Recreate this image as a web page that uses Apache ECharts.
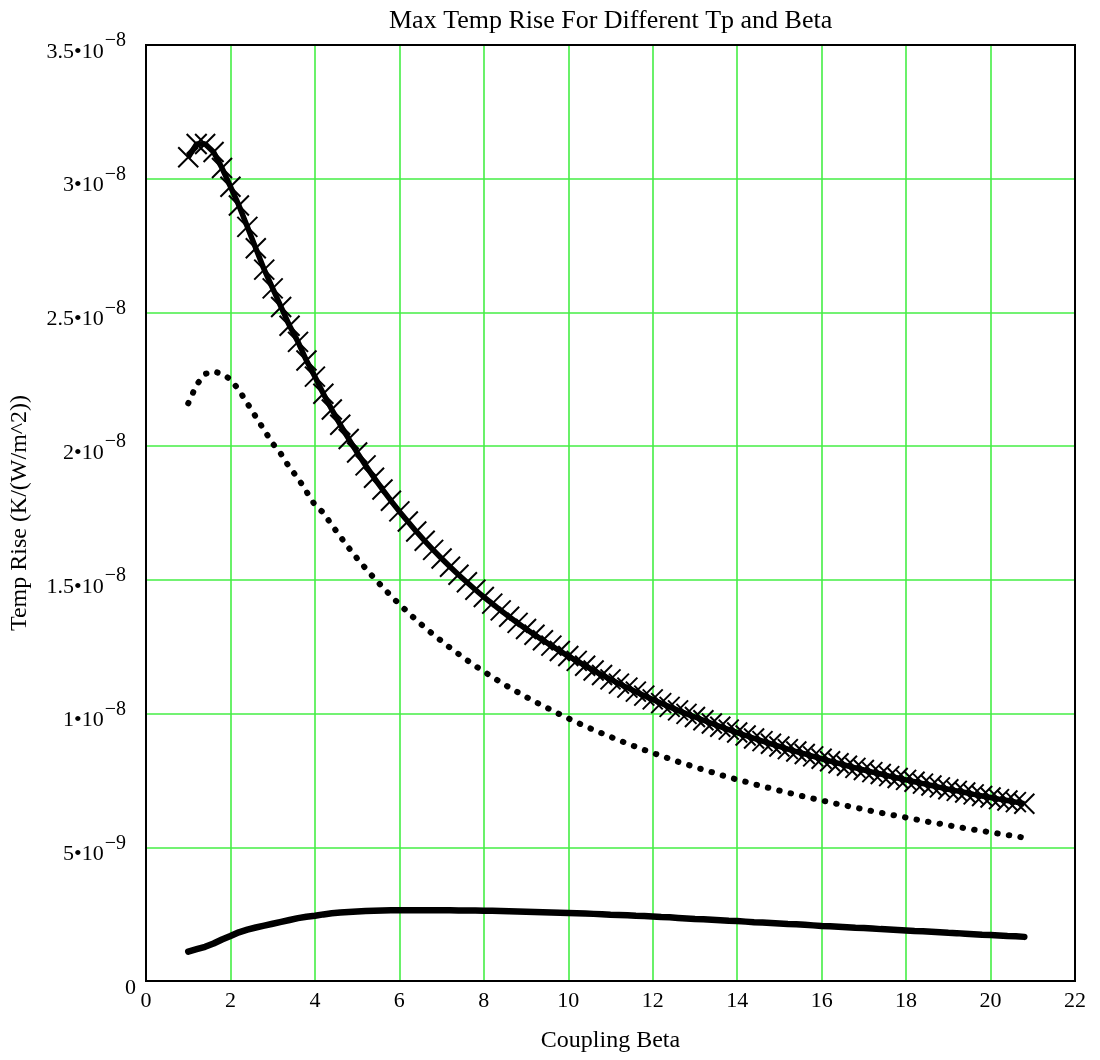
<!DOCTYPE html>
<html>
<head>
<meta charset="utf-8">
<script src="https://cdn.jsdelivr.net/npm/echarts@6/dist/echarts.min.js"></script>
<style>
html,body{margin:0;padding:0;background:#fff;}
#chart{width:1100px;height:1060px;}
</style>
</head>
<body>
<div id="chart"></div>
<script>
// Coupling Beta values (x)
const beta = [1.0,1.2,1.4,1.6,1.8,2.0,2.2,2.4,2.6,2.8,3.0,3.2,3.4,3.6,3.8,4.0,4.2,4.4,4.6,4.8,
  5.0,5.2,5.4,5.6,5.8,6.0,6.2,6.4,6.6,6.8,7.0,7.2,7.4,7.6,7.8,8.0,8.2,8.4,8.6,8.8,
  9.0,9.2,9.4,9.6,9.8,10.0,10.2,10.4,10.6,10.8,11.0,11.2,11.4,11.6,11.8,12.0,12.2,12.4,12.6,12.8,
  13.0,13.2,13.4,13.6,13.8,14.0,14.2,14.4,14.6,14.8,15.0,15.2,15.4,15.6,15.8,16.0,16.2,16.4,16.6,16.8,
  17.0,17.2,17.4,17.6,17.8,18.0,18.2,18.4,18.6,18.8,19.0,19.2,19.4,19.6,19.8,20.0,20.2,20.4,20.6,20.8];

// Temperature rise, in units of 1e-9 K/(W/m^2)
const riseCross = [30.8,31.3,31.3,31.0,30.4,29.7,29.0,28.2,27.4,26.6,25.9,25.2,24.5,23.9,23.2,22.6,21.96,21.37,20.80,20.27,
  19.76,19.28,18.82,18.38,17.96,17.56,17.18,16.81,16.46,16.12,15.80,15.49,15.19,14.91,14.63,14.36,14.11,13.86,13.62,13.39,
  13.16,12.95,12.74,12.54,12.34,12.15,11.97,11.79,11.61,11.44,11.28,11.12,10.97,10.82,10.67,10.53,10.39,10.25,10.12,9.99,
  9.87,9.75,9.63,9.51,9.40,9.29,9.18,9.07,8.97,8.87,8.77,8.67,8.58,8.49,8.40,8.31,8.22,8.14,8.05,7.97,
  7.89,7.81,7.74,7.66,7.59,7.52,7.45,7.38,7.31,7.24,7.17,7.11,7.05,6.98,6.92,6.86,6.80,6.75,6.69,6.63];

const riseDot = [21.6,22.3,22.7,22.8,22.7,22.5,22.1,21.6,21.1,20.6,20.1,19.7,19.2,18.8,18.3,17.8,17.51,17.05,16.62,16.20,
  15.80,15.43,15.07,14.73,14.40,14.09,13.79,13.50,13.22,12.96,12.71,12.46,12.23,12.00,11.78,11.57,11.37,11.17,10.98,10.80,
  10.62,10.45,10.29,10.13,9.97,9.82,9.67,9.53,9.39,9.26,9.13,9.00,8.88,8.76,8.64,8.53,8.42,8.31,8.20,8.10,
  8.00,7.90,7.81,7.71,7.62,7.53,7.45,7.36,7.28,7.20,7.12,7.04,6.97,6.89,6.82,6.75,6.68,6.61,6.55,6.48,
  6.42,6.35,6.29,6.23,6.17,6.11,6.05,5.99,5.93,5.88,5.82,5.77,5.71,5.66,5.61,5.56,5.51,5.46,5.41,5.36];

const riseLow = [1.10,1.19,1.28,1.40,1.55,1.68,1.82,1.92,2.00,2.07,2.14,2.21,2.28,2.35,2.40,2.44,2.49,2.53,2.56,2.58,
  2.60,2.62,2.63,2.64,2.645,2.65,2.65,2.65,2.65,2.65,2.65,2.65,2.64,2.64,2.64,2.63,2.63,2.62,2.61,2.60,
  2.59,2.58,2.57,2.56,2.55,2.54,2.53,2.52,2.51,2.50,2.48,2.47,2.46,2.44,2.43,2.41,2.39,2.38,2.36,2.34,
  2.32,2.31,2.29,2.27,2.25,2.24,2.22,2.20,2.19,2.17,2.15,2.13,2.12,2.10,2.08,2.06,2.05,2.03,2.01,1.99,
  1.98,1.96,1.94,1.93,1.91,1.89,1.87,1.86,1.84,1.82,1.80,1.79,1.77,1.75,1.73,1.72,1.70,1.68,1.67,1.65];

// Y tick labels: value (1e-9 units) -> mantissa and exponent
const yTickValues = [0, 5, 10, 15, 20, 25, 30, 35];
const yTickMant = ['0', '5', '1', '1.5', '2', '2.5', '3', '3.5'];
const yTickExp = ['', '\u22129', '\u22128', '\u22128', '\u22128', '\u22128', '\u22128', '\u22128'];

const serif = '"Liberation Serif","DejaVu Serif",serif';
const gridGreen = '#44ee44';

const chart = echarts.init(document.getElementById('chart'), null, {renderer: 'canvas'});
const pair = arr => beta.map((x, i) => [x, arr[i]]);

chart.setOption({
  animation: false,
  backgroundColor: '#fff',
  title: {
    text: 'Max Temp Rise For Different Tp and Beta',
    left: 384, top: 3,
    textStyle: {fontFamily: serif, fontSize: 26, fontWeight: 'normal', color: '#000'}
  },
  grid: {
    left: 146, right: 25, top: 45, bottom: 79,
    containLabel: false, outerBoundsMode: 'none',
    show: true, borderColor: '#000', borderWidth: 2, backgroundColor: 'transparent', z: 5
  },
  xAxis: {
    type: 'value', min: 0, max: 22, interval: 2,
    name: 'Coupling Beta', nameLocation: 'middle', nameGap: 48,
    nameTextStyle: {fontFamily: serif, fontSize: 24, color: '#000'},
    axisLine: {show: true, lineStyle: {color: '#000', width: 2}},
    axisTick: {show: false},
    axisLabel: {fontFamily: serif, fontSize: 22, color: '#000', margin: 9},
    splitLine: {show: true, showMinLine: false, showMaxLine: false,
      lineStyle: {color: gridGreen, width: 1.6, type: 'solid', opacity: 1}}
  },
  yAxis: {
    type: 'value', min: 0, max: 35, interval: 5,
    name: 'Temp Rise (K/(W/m^2))', nameLocation: 'middle', nameGap: 114,
    nameTextStyle: {fontFamily: serif, fontSize: 24, color: '#000'},
    axisLine: {show: true, lineStyle: {color: '#000', width: 2}},
    axisTick: {show: false},
    axisLabel: {
      margin: 10,
      padding: [4, 0, 0, 0],
      formatter: function (v) {
        const i = yTickValues.indexOf(Math.round(v));
        if (i < 0) return '';
        if (!yTickExp[i]) return '{z|' + yTickMant[i] + '}';
        return '{b|' + yTickMant[i] + '\u202210}{e|' + yTickExp[i] + '}';
      },
      rich: {
        z: {fontFamily: serif, fontSize: 22, color: '#000', lineHeight: 32, verticalAlign: 'bottom'},
        b: {fontFamily: serif, fontSize: 22, color: '#000', lineHeight: 32, verticalAlign: 'bottom'},
        e: {fontFamily: serif, fontSize: 20, color: '#000', lineHeight: 32, verticalAlign: 'top', padding: [0, 10, 0, 1]}
      }
    },
    splitLine: {show: true, showMinLine: false, showMaxLine: false,
      lineStyle: {color: gridGreen, width: 1.6, type: 'solid', opacity: 1}}
  },
  series: [
    {
      type: 'line', data: pair(riseCross),
      showSymbol: true, showAllSymbol: true,
      symbol: 'path://M0,0L20,20M20,0L0,20', symbolSize: 20, symbolKeepAspect: true,
      itemStyle: {color: 'rgba(0,0,0,0)', borderColor: '#000', borderWidth: 2},
      lineStyle: {color: '#000', width: 5.5},
      z: 3
    },
    {
      type: 'line', data: pair(riseDot),
      showSymbol: false,
      lineStyle: {color: '#000', width: 6, type: [0.5, 11.2], cap: 'round'},
      z: 2
    },
    {
      type: 'line', data: pair(riseLow),
      showSymbol: false,
      lineStyle: {color: '#000', width: 6.5, cap: 'round'},
      z: 2
    }
  ]
});
</script>
</body>
</html>
